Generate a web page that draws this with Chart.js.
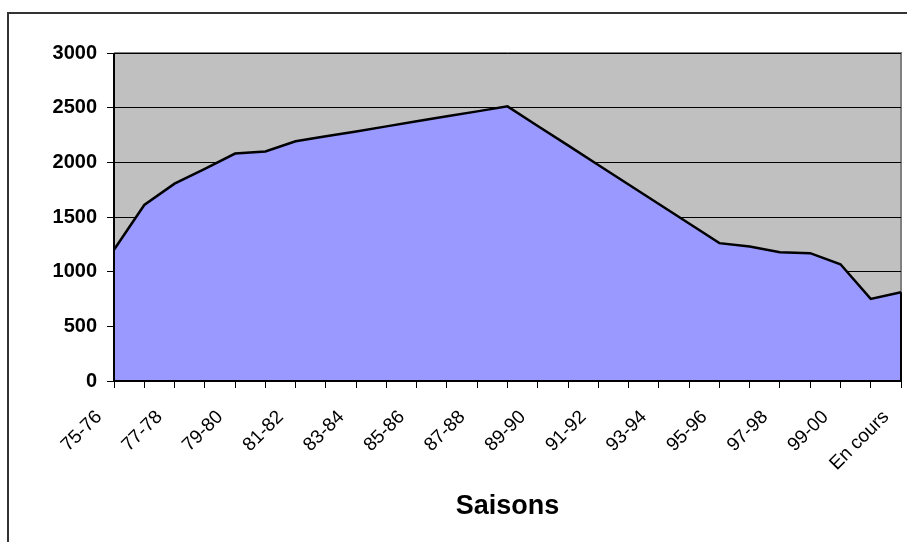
<!DOCTYPE html>
<html>
<head>
<meta charset="utf-8">
<script src="https://cdn.jsdelivr.net/npm/chart.js@4/dist/chart.umd.min.js"></script>
<style>
  body { margin: 0; background: #fff; }
</style>
</head>
<body>
<canvas id="chart" width="907" height="542"></canvas>
<script>
// Seasons on the x axis, one value per season
const seasons = ['75-76', '76-77', '77-78', '78-79', '79-80', '80-81', '81-82', '82-83', '83-84',
    '84-85', '85-86', '86-87', '87-88', '88-89', '89-90', '90-91', '91-92', '92-93', '93-94',
    '94-95', '95-96', '96-97', '97-98', '98-99', '99-00', '00-01', 'En cours'];
const values = [1200, 1610, 1805, 1940, 2080, 2100, 2192, 2238, 2283, 2329, 2375, 2421, 2466, 2512,
    2333, 2155, 1976, 1797, 1619, 1440, 1261, 1230, 1178, 1169, 1068, 751, 812];
const yTicks = [0, 500, 1000, 1500, 2000, 2500, 3000];

const fontFamily = 'Arial, "Liberation Sans", sans-serif';

// grey plot background, outer frame
const backdrop = {
    id: 'backdrop',
    beforeDraw(chart) {
        const { ctx, chartArea: a } = chart;
        ctx.save();
        ctx.strokeStyle = '#333';
        ctx.lineWidth = 2;
        ctx.strokeRect(8, 13, 1200, 1200);
        ctx.fillStyle = '#C0C0C0';
        ctx.fillRect(a.left, a.top, a.right - a.left, a.bottom - a.top);
        ctx.strokeStyle = '#808080';
        ctx.lineWidth = 2;
        ctx.beginPath();
        ctx.moveTo(a.left, a.top);
        ctx.lineTo(a.right, a.top);
        ctx.lineTo(a.right, a.bottom);
        ctx.stroke();
        ctx.restore();
    },
    afterDatasetsDraw(chart) {
        const { ctx, chartArea: a, scales } = chart;
        const yLast = scales.y.getPixelForValue(values[values.length - 1]);
        ctx.save();
        ctx.strokeStyle = '#000';
        ctx.lineWidth = 2;
        ctx.beginPath();
        ctx.moveTo(a.left, a.top);
        ctx.lineTo(a.left, a.bottom);
        ctx.lineTo(a.right, a.bottom);
        ctx.lineTo(a.right, yLast);
        ctx.stroke();
        ctx.restore();
    }
};

new Chart(document.getElementById('chart').getContext('2d'), {
    type: 'line',
    data: {
        labels: seasons,
        datasets: [{
            data: values,
            fill: 'origin',
            backgroundColor: '#9999FF',
            borderColor: '#000',
            borderWidth: 2.5,
            pointRadius: 0,
            tension: 0
        }]
    },
    options: {
        responsive: false,
        animation: false,
        devicePixelRatio: 1,
        layout: { padding: { top: 53, right: 6, left: 0, bottom: 0 } },
        plugins: { legend: { display: false }, tooltip: { enabled: false } },
        scales: {
            x: {
                offset: false,
                grid: { drawOnChartArea: false, drawTicks: true, tickLength: 7, tickColor: '#000' },
                border: { display: false },
                ticks: {
                    autoSkip: false,
                    maxRotation: 45,
                    minRotation: 45,
                    labelOffset: -15,
                    padding: 18,
                    color: '#000',
                    font: { family: fontFamily, size: 19 },
                    callback: (v, i) => (i % 2 === 0 ? seasons[i] : '')
                },
                title: {
                    display: true,
                    text: 'Saisons',
                    color: '#000',
                    font: { family: fontFamily, size: 27, weight: 'bold' },
                    padding: { top: 0, bottom: 19 }
                },
                afterFit(scale) {
                    scale.height = 161;
                    scale.paddingLeft = 0;
                    scale.paddingRight = 0;
                }
            },
            y: {
                min: 0,
                max: 3000,
                afterBuildTicks(scale) { scale.ticks = yTicks.map(v => ({ value: v })); },
                grid: { color: '#000', lineWidth: 1, tickLength: 7, tickColor: '#000' },
                border: { display: false },
                ticks: {
                    padding: 10,
                    color: '#000',
                    font: { family: fontFamily, size: 20, weight: 'bold' },
                    callback: v => String(v)
                },
                afterFit(scale) { scale.width = 114; }
            }
        }
    },
    plugins: [backdrop]
});
</script>
</body>
</html>
